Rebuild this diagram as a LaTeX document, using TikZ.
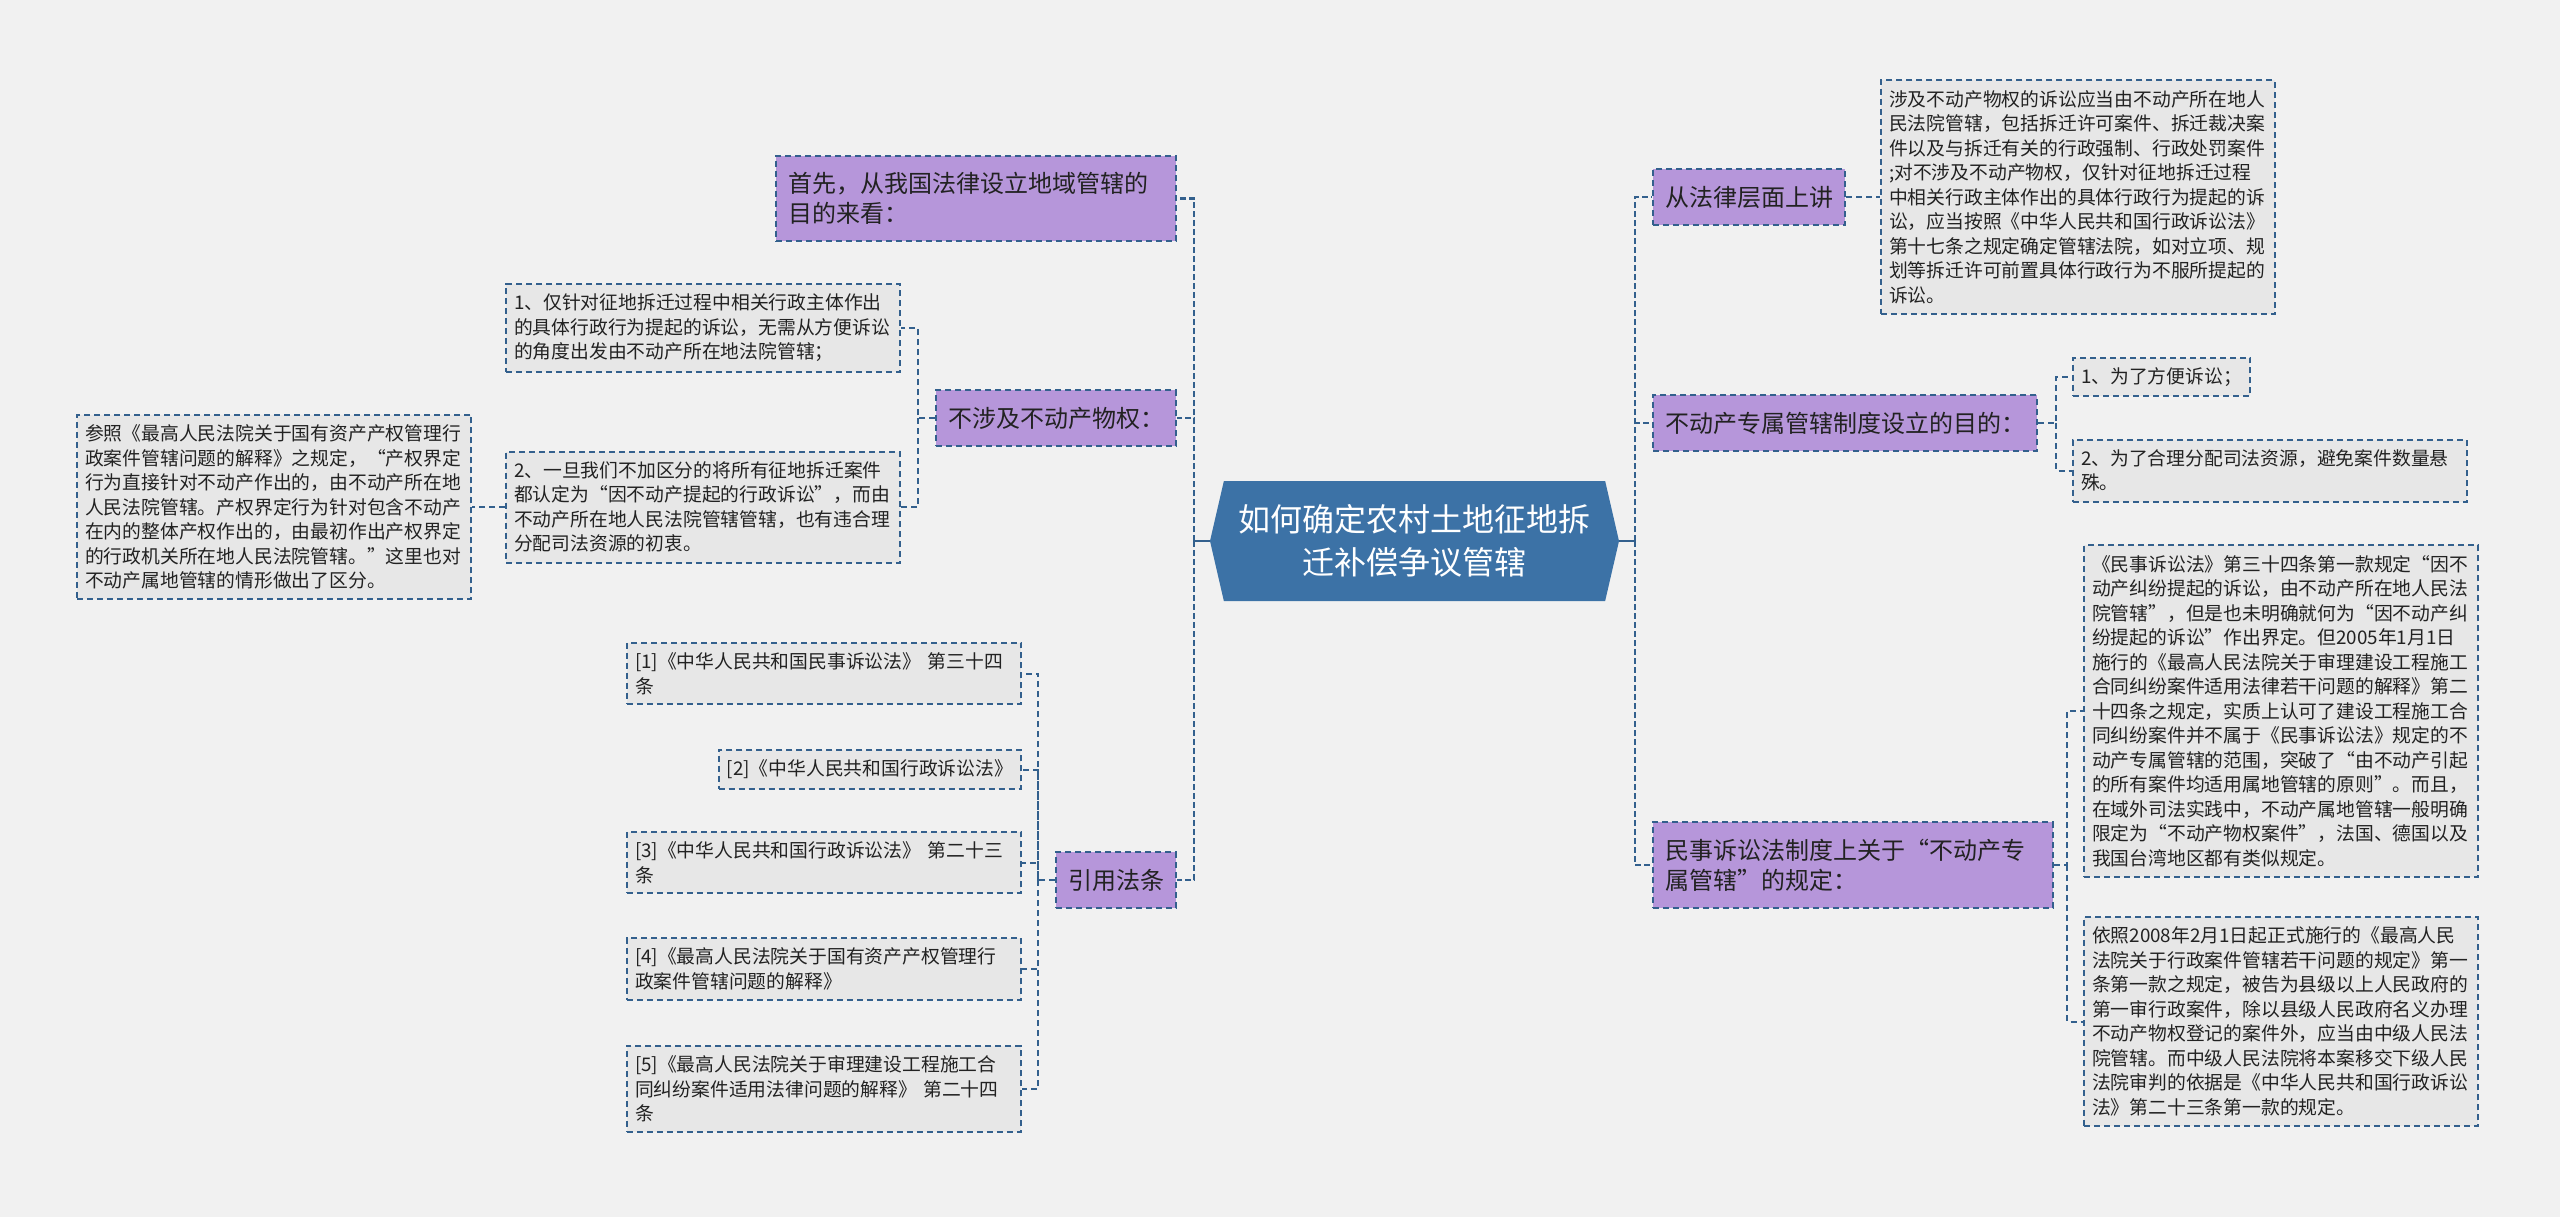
\documentclass[tikz,border=0pt]{standalone}
\usepackage{fontspec}
\setmainfont{Noto Sans CJK SC}
\usetikzlibrary{positioning, shapes.symbols}
\definecolor{bgGray}{HTML}{F1F1F1}
\definecolor{topicPurple}{HTML}{B696DA}
\definecolor{leafGray}{HTML}{E7E7E7}
\definecolor{linkBlue}{HTML}{33608D}
\definecolor{rootBlue}{HTML}{3C72A6}
\definecolor{inkGray}{HTML}{222222}
\tikzset{
dashbox/.style={draw=linkBlue, line width=1pt, dash pattern=on 3pt off 2pt}, % the dashed frame of every box
topic/.style={dashbox, fill=topicPurple, text=inkGray, inner xsep=6pt, inner ysep=8.25pt, align=left, font=\fontsize{12}{15}\selectfont}, % purple branch boxes
wide topic/.style={topic, text width=188pt},
leaf/.style={dashbox, fill=leafGray, text=inkGray, inner xsep=4pt, inner ysep=5pt, align=left, font=\fontsize{9.4}{12.25}\selectfont}, % grey text boxes
wide leaf/.style={leaf, text width=189pt},
root/.style={signal, signal to=west and east, signal pointer angle=154, fill=rootBlue, text=white, align=center, minimum width=204.5pt, minimum height=60pt, inner sep=0pt, font=\fontsize{16}{21.5}\selectfont}, % the centre hexagon
stem/.style={draw=linkBlue, line width=1.4pt},
trunk/.style={draw=linkBlue, line width=1.4pt, dash pattern=on 3pt off 1.5pt},
link/.style={draw=linkBlue, line width=1pt, dash pattern=on 3pt off 2pt},
}
\begin{document}
\begin{tikzpicture}[x=0.5pt, y=-0.5pt]
        \fill[bgGray] (0,0) rectangle (2560,1217);

        \node[root] (root) at (1414.5,541) {如何确定农村土地征地拆\\迁补偿争议管辖};

        % left side
        \node[wide topic, anchor=east] (firstL) at (1177,198.5) {首先，从我国法律设立地域管辖的\\目的来看：};
        \node[topic, anchor=east] (nonReal) at (1177,418) {不涉及不动产物权：};
        \node[topic, anchor=east] (cite) at (1177,880) {引用法条};

        \node[wide leaf, anchor=east] (item1) at (901,328) {1、仅针对征地拆迁过程中相关行政主体作出\\的具体行政行为提起的诉讼，无需从方便诉讼\\的角度出发由不动产所在地法院管辖；};
        \node[wide leaf, anchor=east] (item2) at (901,507) {2、一旦我们不加区分的将所有征地拆迁案件\\都认定为“因不动产提起的行政诉讼”，而由\\不动产所在地人民法院管辖管辖，也有违合理\\分配司法资源的初衷。};
        \node[wide leaf, left=16.5pt of item2] (refer) {参照《最高人民法院关于国有资产产权管理行\\政案件管辖问题的解释》之规定，“产权界定\\行为直接针对不动产作出的，由不动产所在地\\人民法院管辖。产权界定行为针对包含不动产\\在内的整体产权作出的，由最初作出产权界定\\的行政机关所在地人民法院管辖。”这里也对\\不动产属地管辖的情形做出了区分。};

        \node[wide leaf, anchor=east] (c1) at (1022,673.5) {[1]《中华人民共和国民事诉讼法》 第三十四\\条};
        \node[leaf, anchor=east] (c2) at (1022,769.5) {[2]《中华人民共和国行政诉讼法》};
        \node[wide leaf, anchor=east] (c3) at (1022,862.5) {[3]《中华人民共和国行政诉讼法》 第二十三\\条};
        \node[wide leaf, anchor=east] (c4) at (1022,969) {[4]《最高人民法院关于国有资产产权管理行\\政案件管辖问题的解释》};
        \node[wide leaf, anchor=east] (c5) at (1022,1089) {[5]《最高人民法院关于审理建设工程施工合\\同纠纷案件适用法律问题的解释》 第二十四\\条};

        % right side
        \node[topic, anchor=west] (lawLevel) at (1652,197) {从法律层面上讲};
        \node[wide leaf, right=17pt of lawLevel] (involve) {涉及不动产物权的诉讼应当由不动产所在地人\\民法院管辖，包括拆迁许可案件、拆迁裁决案\\件以及与拆迁有关的行政强制、行政处罚案件\\;对不涉及不动产物权，仅针对征地拆迁过程\\中相关行政主体作出的具体行政行为提起的诉\\讼，应当按照《中华人民共和国行政诉讼法》\\第十七条之规定确定管辖法院，如对立项、规\\划等拆迁许可前置具体行政行为不服所提起的\\诉讼。};
        \node[topic, anchor=west] (purpose) at (1652,423) {不动产专属管辖制度设立的目的：};
        \node[leaf, anchor=west] (p1) at (2072,377) {1、为了方便诉讼；};
        \node[wide leaf, anchor=west] (p2) at (2072,470.5) {2、为了合理分配司法资源，避免案件数量悬\\殊。};
        \node[wide topic, anchor=west] (civil) at (1652,865) {民事诉讼法制度上关于“不动产专\\属管辖”的规定：};
        \node[wide leaf, anchor=west] (civ1) at (2083,711) {《民事诉讼法》第三十四条第一款规定“因不\\动产纠纷提起的诉讼，由不动产所在地人民法\\院管辖”，但是也未明确就何为“因不动产纠\\纷提起的诉讼”作出界定。但2005年1月1日\\施行的《最高人民法院关于审理建设工程施工\\合同纠纷案件适用法律若干问题的解释》第二\\十四条之规定，实质上认可了建设工程施工合\\同纠纷案件并不属于《民事诉讼法》规定的不\\动产专属管辖的范围，突破了“由不动产引起\\的所有案件均适用属地管辖的原则”。而且，\\在域外司法实践中，不动产属地管辖一般明确\\限定为“不动产物权案件”，法国、德国以及\\我国台湾地区都有类似规定。};
        \node[wide leaf, anchor=west] (civ2) at (2083,1021.5) {依照2008年2月1日起正式施行的《最高人民\\法院关于行政案件管辖若干问题的规定》第一\\条第一款之规定，被告为县级以上人民政府的\\第一审行政案件，除以县级人民政府名义办理\\不动产物权登记的案件外，应当由中级人民法\\院管辖。而中级人民法院将本案移交下级人民\\法院审判的依据是《中华人民共和国行政诉讼\\法》第二十三条第一款的规定。};

        % connectors, left
        \coordinate (jL) at (1194,541);
        \coordinate (jA) at (918,418);
        \coordinate (jC) at (1038,880);
        \draw[stem] (root.west) -- (jL);
        \draw[trunk] (jL) |- (firstL.east);
        \draw[trunk] (jL) |- (nonReal.east);
        \draw[trunk] (jL) |- (cite.east);
        \draw[link] (nonReal.west) -- (jA) |- (item1.east);
        \draw[link] (jA) |- (item2.east);
        \draw[link] (item2.west) -- (refer.east);
        \draw[link] (cite.west) -- (jC) |- (c1.east);
        \draw[link] (jC) |- (c2.east);
        \draw[link] (jC) |- (c3.east);
        \draw[link] (jC) |- (c4.east);
        \draw[link] (jC) |- (c5.east);

        % connectors, right
        \coordinate (jR) at (1635,541);
        \coordinate (jD) at (2056,423);
        \coordinate (jE) at (2067,865);
        \draw[stem] (root.east) -- (jR);
        \draw[trunk] (jR) |- (lawLevel.west);
        \draw[trunk] (jR) |- (purpose.west);
        \draw[trunk] (jR) |- (civil.west);
        \draw[link] (lawLevel.east) -- (involve.west);
        \draw[link] (purpose.east) -- (jD) |- (p1.west);
        \draw[link] (jD) |- (p2.west);
        \draw[link] (civil.east) -- (jE) |- (civ1.west);
        \draw[link] (jE) |- (civ2.west);
    \end{tikzpicture}
\end{document}
